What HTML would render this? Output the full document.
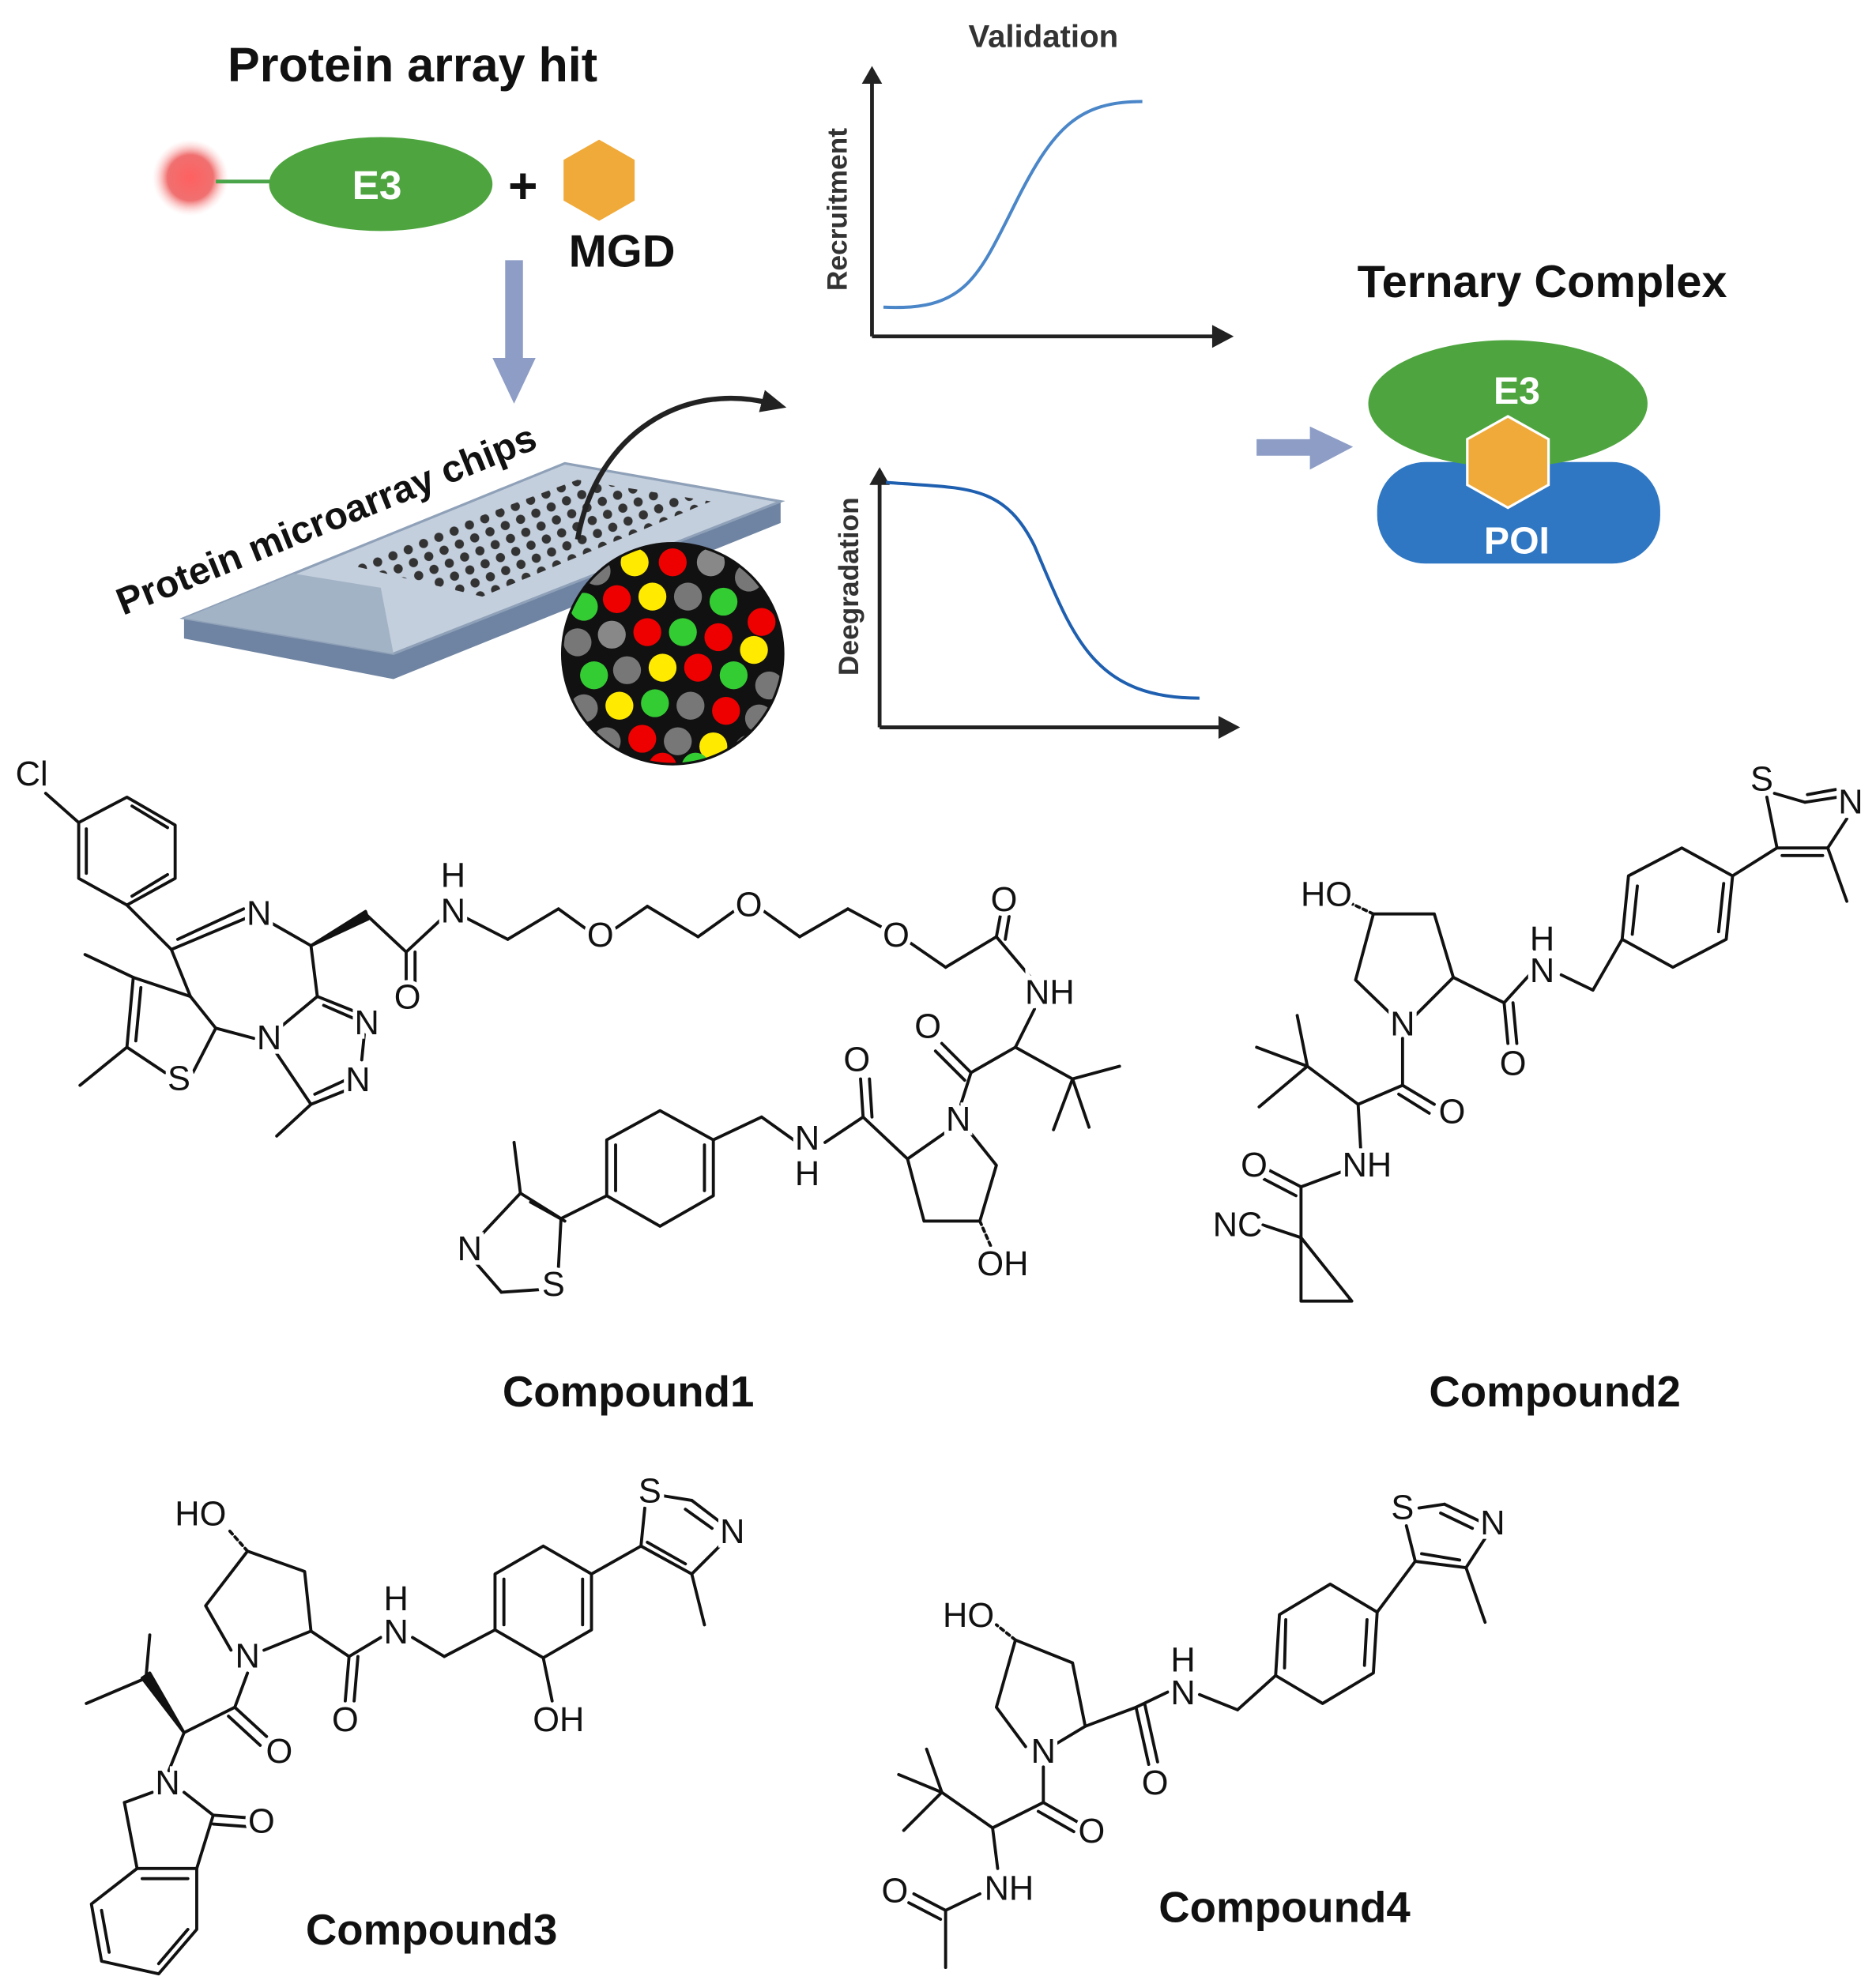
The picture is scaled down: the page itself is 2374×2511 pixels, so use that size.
<!DOCTYPE html>
<html><head><meta charset="utf-8">
<style>
html,body{margin:0;padding:0;background:#fff;}
svg{display:block;}
text{font-family:"Liberation Sans",Arial,sans-serif;}
.b{stroke:#111;stroke-width:2.4;fill:none;stroke-linejoin:round;stroke-linecap:round;}
.a{font-size:27px;fill:#111;stroke:#fff;stroke-width:7px;paint-order:stroke;text-anchor:middle;dominant-baseline:central;}
.t{font-weight:bold;fill:#111;text-anchor:middle;}
</style></head>
<body>
<svg width="2374" height="2511" viewBox="0 0 1478 1563" preserveAspectRatio="none" xmlns="http://www.w3.org/2000/svg">
<defs>
<radialGradient id="rg"><stop offset="0" stop-color="#ff6060"/><stop offset="0.6" stop-color="#f07070"/><stop offset="1" stop-color="#ffd0d0" stop-opacity="0"/></radialGradient>
<pattern id="dots" width="13" height="11" patternUnits="userSpaceOnUse" patternTransform="rotate(-22)"><circle cx="6" cy="5" r="3.6" fill="#333"/></pattern>
<clipPath id="cc"><circle cx="530" cy="515" r="86"/></clipPath>
<marker id="ah" markerWidth="24" markerHeight="20" refX="8" refY="9" orient="auto" markerUnits="userSpaceOnUse"><path d="M0,0 L20,9 L0,18 Z" fill="#222"/></marker>
</defs>

<!-- Top left -->
<text x="325" y="64" class="t" font-size="38">Protein array hit</text>
<circle cx="150" cy="140" r="30" fill="url(#rg)"/>
<line x1="170" y1="143" x2="215" y2="143" stroke="#4aa44a" stroke-width="3"/>
<ellipse cx="300" cy="145" rx="88" ry="37" fill="#4ea53f"/>
<text x="297" y="157" class="t" font-size="32" style="fill:#fff">E3</text>
<text x="412" y="160" class="t" font-size="40">+</text>
<polygon points="472,110 500,126 500,158 472,174 444,158 444,126" fill="#f0aa3a"/>
<text x="490" y="210" class="t" font-size="36">MGD</text>
<rect x="398" y="205" width="14" height="80" fill="#8d9dc6"/>
<polygon points="388,282 422,282 405,318" fill="#8d9dc6"/>

<!-- Slide -->
<polygon points="145,487 145,503 310,535 615,412 615,395 310,515" fill="#6f84a2"/>
<polygon points="145,487 445,365 615,395 310,515" fill="#c4cfdd" stroke="#8fa1b8" stroke-width="2"/>
<polygon points="145,487 232,452 300,463 310,515" fill="#a3b3c6"/>
<polygon points="275,445 455,378 560,395 380,470" fill="url(#dots)"/>
<text x="0" y="0" font-size="30" font-weight="bold" fill="#111" transform="translate(97,485) rotate(-22)">Protein microarray chips</text>
<path d="M455,425 C470,340 540,300 608,318" style="stroke:#222;stroke-width:4;fill:none" marker-end="url(#ah)"/>
<circle cx="530" cy="515" r="88" fill="#111"/>
<g clip-path="url(#cc)">
<circle cx="470" cy="450" r="11" fill="#777"/><circle cx="500" cy="443" r="11" fill="#ffea00"/><circle cx="530" cy="443" r="11" fill="#e00"/><circle cx="560" cy="443" r="11" fill="#888"/><circle cx="590" cy="455" r="11" fill="#777"/>
<circle cx="460" cy="478" r="11" fill="#3c3"/><circle cx="486" cy="472" r="11" fill="#e00"/><circle cx="514" cy="470" r="11" fill="#ffea00"/><circle cx="542" cy="470" r="11" fill="#777"/><circle cx="570" cy="474" r="11" fill="#3c3"/><circle cx="600" cy="490" r="11" fill="#e00"/>
<circle cx="455" cy="506" r="11" fill="#777"/><circle cx="482" cy="500" r="11" fill="#888"/><circle cx="510" cy="498" r="11" fill="#e00"/><circle cx="538" cy="498" r="11" fill="#3c3"/><circle cx="566" cy="502" r="11" fill="#e00"/><circle cx="594" cy="512" r="11" fill="#ffea00"/>
<circle cx="468" cy="532" r="11" fill="#3c3"/><circle cx="494" cy="528" r="11" fill="#777"/><circle cx="522" cy="526" r="11" fill="#ffea00"/><circle cx="550" cy="526" r="11" fill="#e00"/><circle cx="578" cy="532" r="11" fill="#3c3"/><circle cx="606" cy="540" r="11" fill="#777"/>
<circle cx="460" cy="558" r="11" fill="#777"/><circle cx="488" cy="556" r="11" fill="#ffea00"/><circle cx="516" cy="554" r="11" fill="#3c3"/><circle cx="544" cy="556" r="11" fill="#777"/><circle cx="572" cy="560" r="11" fill="#e00"/><circle cx="598" cy="566" r="11" fill="#777"/>
<circle cx="478" cy="584" r="11" fill="#777"/><circle cx="506" cy="582" r="11" fill="#e00"/><circle cx="534" cy="584" r="11" fill="#777"/><circle cx="562" cy="588" r="11" fill="#ffea00"/><circle cx="590" cy="590" r="11" fill="#777"/>
<circle cx="522" cy="604" r="11" fill="#e00"/><circle cx="548" cy="604" r="11" fill="#3c3"/>
</g>

<!-- Validation plots -->
<text x="822" y="37" class="t" font-size="25" style="fill:#333">Validation</text>
<line x1="687" y1="265" x2="687" y2="62" stroke="#222" stroke-width="3"/>
<polygon points="679,66 695,66 687,52" fill="#222"/>
<line x1="687" y1="265" x2="958" y2="265" stroke="#222" stroke-width="3"/>
<polygon points="955,256 955,274 972,265" fill="#222"/>
<path d="M696,242 C760,245 770,220 800,160 C830,100 850,80 900,80" stroke="#4a86c8" stroke-width="2.5" fill="none"/>
<text transform="translate(667,165) rotate(-90)" class="t" font-size="22" style="fill:#333">Recruitment</text>
<line x1="693" y1="573" x2="693" y2="378" stroke="#222" stroke-width="3"/>
<polygon points="685,382 701,382 693,368" fill="#222"/>
<line x1="693" y1="573" x2="962" y2="573" stroke="#222" stroke-width="3"/>
<polygon points="960,564 960,582 977,573" fill="#222"/>
<path d="M698,380 C760,385 790,380 815,430 C845,500 860,550 945,550" stroke="#1f5fb0" stroke-width="2.5" fill="none"/>
<text transform="translate(676,462) rotate(-90)" class="t" font-size="22" style="fill:#333">Deegradation</text>

<!-- Ternary -->
<rect x="990" y="346" width="45" height="13" fill="#8d9dc6"/>
<polygon points="1032,336 1032,370 1066,352" fill="#8d9dc6"/>
<text x="1215" y="234" class="t" font-size="36">Ternary Complex</text>
<rect x="1085" y="364" width="223" height="80" rx="38" fill="#2f77c3"/>
<ellipse cx="1188" cy="318" rx="110" ry="50" fill="#4ea53f"/>
<polygon points="1188,328 1220,346 1220,382 1188,400 1156,382 1156,346" fill="#f0aa3a" stroke="#fff" stroke-width="2"/>
<text x="1195" y="318" class="t" font-size="30" style="fill:#fff">E3</text>
<text x="1195" y="436" class="t" font-size="30" style="fill:#fff">POI</text>

<!-- Compound 1 -->
<g class="b">
<polygon points="100,628 138,650 138,692 100,713 62,692 62,648"/>
<line x1="68" y1="653" x2="68" y2="688"/><line x1="104" y1="706" x2="132" y2="689"/><line x1="104" y1="635" x2="132" y2="652"/>
<line x1="62" y1="648" x2="36" y2="625"/>
<line x1="100" y1="713" x2="135" y2="748"/>
<line x1="135" y1="748" x2="197" y2="722"/><line x1="140" y1="740" x2="192" y2="716"/>
<line x1="210" y1="725" x2="245" y2="745"/>
<polygon points="245,745 288,718 290,724" fill="#111"/>
<line x1="289" y1="721" x2="320" y2="750"/>
<line x1="320" y1="750" x2="320" y2="775"/><line x1="327" y1="750" x2="327" y2="775"/>
<line x1="320" y1="750" x2="350" y2="722"/>
<line x1="365" y1="722" x2="400" y2="740"/><line x1="400" y1="740" x2="440" y2="716"/><line x1="440" y1="716" x2="462" y2="732"/>
<line x1="484" y1="732" x2="510" y2="714"/><line x1="510" y1="714" x2="550" y2="738"/><line x1="550" y1="738" x2="578" y2="718"/>
<line x1="602" y1="718" x2="630" y2="738"/><line x1="630" y1="738" x2="668" y2="716"/><line x1="668" y1="716" x2="694" y2="730"/>
<line x1="716" y1="742" x2="745" y2="762"/><line x1="745" y1="762" x2="785" y2="738"/>
<line x1="785" y1="738" x2="788" y2="722"/><line x1="792" y1="740" x2="795" y2="722"/>
<line x1="785" y1="738" x2="812" y2="770"/>
<line x1="815" y1="795" x2="800" y2="825"/>
<line x1="800" y1="825" x2="845" y2="850"/><line x1="845" y1="850" x2="882" y2="840"/><line x1="845" y1="850" x2="858" y2="888"/><line x1="845" y1="850" x2="830" y2="890"/>
<line x1="800" y1="825" x2="765" y2="845"/>
<line x1="765" y1="845" x2="742" y2="822"/><line x1="760" y1="851" x2="737" y2="828"/>
<line x1="765" y1="845" x2="757" y2="870"/>
<polyline points="765,893 785,918 772,962 728,962 715,913 745,892"/>
<line x1="772" y1="962" x2="782" y2="985" stroke-dasharray="3,3"/>
<line x1="715" y1="913" x2="680" y2="880"/>
<line x1="680" y1="880" x2="678" y2="850"/><line x1="687" y1="880" x2="685" y2="850"/>
<line x1="680" y1="880" x2="650" y2="900"/>
<line x1="628" y1="900" x2="600" y2="880"/><line x1="600" y1="880" x2="562" y2="898"/>
<polygon points="562,898 562,942 520,966 478,942 478,898 520,875"/>
<line x1="555" y1="902" x2="555" y2="938"/><line x1="485" y1="902" x2="485" y2="938"/>
<line x1="478" y1="942" x2="442" y2="960"/>
<line x1="442" y1="960" x2="410" y2="940"/><line x1="410" y1="940" x2="405" y2="900"/>
<line x1="410" y1="940" x2="380" y2="972"/><line x1="418" y1="947" x2="445" y2="962"/>
<line x1="375" y1="995" x2="395" y2="1018"/><line x1="395" y1="1018" x2="425" y2="1016"/><line x1="442" y1="960" x2="440" y2="998"/>
<line x1="135" y1="748" x2="150" y2="785"/>
<line x1="150" y1="785" x2="105" y2="770"/><line x1="105" y1="770" x2="100" y2="825"/><line x1="111" y1="778" x2="107" y2="820"/>
<line x1="100" y1="825" x2="130" y2="845"/><line x1="152" y1="845" x2="170" y2="810"/><line x1="170" y1="810" x2="150" y2="785"/>
<line x1="105" y1="770" x2="67" y2="752"/><line x1="100" y1="825" x2="63" y2="855"/>
<line x1="170" y1="810" x2="200" y2="818"/>
<line x1="245" y1="745" x2="250" y2="785"/>
<line x1="220" y1="810" x2="250" y2="785"/><line x1="250" y1="785" x2="280" y2="797"/><line x1="255" y1="792" x2="278" y2="802"/>
<line x1="287" y1="815" x2="285" y2="835"/>
<line x1="275" y1="858" x2="245" y2="870"/><line x1="272" y1="851" x2="248" y2="862"/>
<line x1="245" y1="870" x2="218" y2="830"/><line x1="245" y1="870" x2="218" y2="895"/>
</g>
<g class="a">
<text x="25" y="610">Cl</text><text x="204" y="720">N</text><text x="321" y="786">O</text>
<text x="357" y="690">H</text><text x="357" y="718">N</text>
<text x="473" y="737">O</text><text x="590" y="713">O</text><text x="706" y="737">O</text><text x="791" y="709">O</text>
<text x="827" y="782">NH</text><text x="731" y="809">O</text><text x="755" y="882">N</text><text x="675" y="835">O</text>
<text x="790" y="996">OH</text><text x="636" y="897">N</text><text x="636" y="925">H</text>
<text x="370" y="984">N</text><text x="436" y="1012">S</text><text x="141" y="850">S</text>
<text x="212" y="818">N</text><text x="289" y="806">N</text><text x="282" y="851">N</text>
</g>

<!-- Compound 2 -->
<g class="b">
<line x1="1398" y1="625" x2="1422" y2="632"/><line x1="1422" y1="632" x2="1448" y2="628"/><line x1="1424" y1="626" x2="1446" y2="622"/>
<line x1="1455" y1="645" x2="1440" y2="668"/><line x1="1440" y1="668" x2="1400" y2="668"/><line x1="1436" y1="674" x2="1404" y2="674"/>
<line x1="1400" y1="668" x2="1392" y2="628"/><line x1="1440" y1="668" x2="1455" y2="710"/>
<line x1="1400" y1="668" x2="1365" y2="690"/>
<polygon points="1365,690 1360,740 1318,762 1278,740 1283,690 1325,668"/>
<line x1="1358" y1="696" x2="1354" y2="734"/><line x1="1286" y1="736" x2="1290" y2="698"/>
<line x1="1278" y1="740" x2="1255" y2="780"/><line x1="1255" y1="780" x2="1230" y2="768"/>
<line x1="1205" y1="768" x2="1185" y2="790"/>
<line x1="1185" y1="790" x2="1188" y2="822"/><line x1="1192" y1="790" x2="1195" y2="822"/>
<line x1="1185" y1="790" x2="1145" y2="770"/>
<polyline points="1145,770 1130,720 1082,720 1068,772 1097,800"/><line x1="1145" y1="770" x2="1115" y2="800"/>
<line x1="1082" y1="720" x2="1065" y2="712" stroke-dasharray="3,3"/>
<line x1="1105" y1="818" x2="1105" y2="855"/><line x1="1105" y1="855" x2="1130" y2="870"/><line x1="1102" y1="862" x2="1126" y2="877"/>
<line x1="1105" y1="855" x2="1070" y2="870"/><line x1="1070" y1="870" x2="1030" y2="840"/>
<line x1="1030" y1="840" x2="990" y2="825"/><line x1="1030" y1="840" x2="1022" y2="800"/><line x1="1030" y1="840" x2="992" y2="872"/>
<line x1="1070" y1="870" x2="1072" y2="905"/><line x1="1060" y1="922" x2="1025" y2="935"/>
<line x1="1025" y1="935" x2="1000" y2="922"/><line x1="1021" y1="942" x2="996" y2="929"/>
<line x1="1025" y1="935" x2="1025" y2="975"/><line x1="1025" y1="975" x2="995" y2="965"/>
<polygon points="1025,975 1065,1025 1025,1025"/>
</g>
<g class="a">
<text x="1388" y="614">S</text><text x="1458" y="632">N</text><text x="1215" y="740">H</text><text x="1215" y="765">N</text>
<text x="1192" y="838">O</text><text x="1045" y="705">HO</text><text x="1105" y="807">N</text><text x="1144" y="876">O</text>
<text x="1077" y="918">NH</text><text x="988" y="918">O</text><text x="975" y="965">NC</text>
</g>

<text x="495" y="1108" class="t" font-size="34">Compound1</text>
<text x="1225" y="1108" class="t" font-size="34">Compound2</text>

<!-- Compound 3 -->
<g class="b">
<polyline points="195,1222 240,1238 245,1285 208,1300"/><polyline points="182,1300 162,1265 195,1222"/>
<line x1="195" y1="1222" x2="180" y2="1205" stroke-dasharray="3,3"/>
<line x1="245" y1="1285" x2="275" y2="1305"/>
<line x1="275" y1="1305" x2="272" y2="1340"/><line x1="282" y1="1305" x2="279" y2="1340"/>
<line x1="275" y1="1305" x2="300" y2="1290"/><line x1="325" y1="1290" x2="350" y2="1305"/><line x1="350" y1="1305" x2="390" y2="1284"/>
<polygon points="390,1240 428,1218 466,1240 466,1284 428,1306 390,1284"/>
<line x1="397" y1="1244" x2="397" y2="1280"/><line x1="459" y1="1244" x2="459" y2="1280"/>
<line x1="428" y1="1306" x2="435" y2="1340"/>
<line x1="466" y1="1240" x2="505" y2="1218"/>
<line x1="505" y1="1218" x2="508" y2="1188"/><line x1="520" y1="1178" x2="545" y2="1182"/><line x1="545" y1="1182" x2="566" y2="1198"/><line x1="540" y1="1189" x2="561" y2="1204"/>
<line x1="570" y1="1215" x2="545" y2="1240"/><line x1="545" y1="1240" x2="505" y2="1218"/><line x1="540" y1="1232" x2="510" y2="1215"/>
<line x1="545" y1="1240" x2="555" y2="1280"/>
<line x1="195" y1="1318" x2="185" y2="1345"/><line x1="185" y1="1345" x2="210" y2="1368"/><line x1="180" y1="1352" x2="205" y2="1375"/>
<line x1="185" y1="1345" x2="145" y2="1365"/>
<polygon points="145,1365 112,1322 118,1318" fill="#111"/>
<line x1="115" y1="1322" x2="68" y2="1342"/><line x1="115" y1="1322" x2="118" y2="1288"/>
<line x1="145" y1="1365" x2="133" y2="1395"/>
<line x1="145" y1="1412" x2="168" y2="1430"/><line x1="168" y1="1430" x2="195" y2="1432"/><line x1="168" y1="1437" x2="195" y2="1439"/>
<line x1="120" y1="1412" x2="98" y2="1420"/>
<line x1="168" y1="1430" x2="155" y2="1472"/><line x1="98" y1="1420" x2="108" y2="1472"/>
<polygon points="155,1472 108,1472 72,1500 80,1545 125,1555 155,1520"/>
<line x1="112" y1="1480" x2="148" y2="1480"/><line x1="80" y1="1505" x2="86" y2="1538"/><line x1="125" y1="1547" x2="148" y2="1520"/>
</g>
<g class="a">
<text x="158" y="1193">HO</text><text x="195" y="1305">N</text><text x="272" y="1355">O</text><text x="312" y="1260">H</text><text x="312" y="1286">N</text>
<text x="440" y="1355">OH</text><text x="512" y="1175">S</text><text x="577" y="1207">N</text><text x="220" y="1380">O</text>
<text x="132" y="1405">N</text><text x="206" y="1435">O</text>
</g>
<text x="340" y="1532" class="t" font-size="34">Compound3</text>

<!-- Compound 4 -->
<g class="b">
<polyline points="800,1292 845,1310 855,1360 830,1375"/><polyline points="808,1376 785,1345 800,1292"/>
<line x1="800" y1="1292" x2="785" y2="1280" stroke-dasharray="3,3"/>
<line x1="855" y1="1360" x2="895" y2="1345"/>
<line x1="895" y1="1345" x2="905" y2="1390"/><line x1="902" y1="1343" x2="912" y2="1388"/>
<line x1="895" y1="1345" x2="920" y2="1333"/><line x1="945" y1="1335" x2="975" y2="1347"/><line x1="975" y1="1347" x2="1005" y2="1320"/>
<polygon points="1005,1320 1008,1272 1048,1248 1085,1270 1082,1318 1042,1342"/>
<line x1="1013" y1="1276" x2="1012" y2="1314"/><line x1="1077" y1="1276" x2="1075" y2="1312"/>
<line x1="1085" y1="1270" x2="1115" y2="1230"/>
<line x1="1115" y1="1230" x2="1108" y2="1202"/><line x1="1118" y1="1188" x2="1138" y2="1185"/><line x1="1138" y1="1185" x2="1165" y2="1198"/><line x1="1135" y1="1192" x2="1160" y2="1204"/>
<line x1="1170" y1="1212" x2="1155" y2="1235"/><line x1="1155" y1="1235" x2="1115" y2="1230"/><line x1="1150" y1="1229" x2="1120" y2="1224"/>
<line x1="1155" y1="1235" x2="1170" y2="1278"/>
<line x1="822" y1="1392" x2="822" y2="1420"/><line x1="822" y1="1420" x2="850" y2="1436"/><line x1="818" y1="1427" x2="846" y2="1443"/>
<line x1="822" y1="1420" x2="782" y2="1440"/><line x1="782" y1="1440" x2="742" y2="1412"/>
<line x1="742" y1="1412" x2="708" y2="1398"/><line x1="742" y1="1412" x2="730" y2="1378"/><line x1="742" y1="1412" x2="712" y2="1442"/>
<line x1="782" y1="1440" x2="786" y2="1472"/><line x1="772" y1="1492" x2="745" y2="1505"/>
<line x1="745" y1="1505" x2="720" y2="1492"/><line x1="741" y1="1512" x2="716" y2="1499"/>
<line x1="745" y1="1505" x2="745" y2="1550"/>
</g>
<g class="a">
<text x="763" y="1273">HO</text><text x="822" y="1380">N</text><text x="910" y="1405">O</text><text x="932" y="1308">H</text><text x="932" y="1334">N</text>
<text x="1105" y="1188">S</text><text x="1176" y="1200">N</text><text x="860" y="1443">O</text><text x="795" y="1488">NH</text><text x="705" y="1490">O</text>
</g>
<text x="1012" y="1514" class="t" font-size="34">Compound4</text>
</svg>
</body></html>
